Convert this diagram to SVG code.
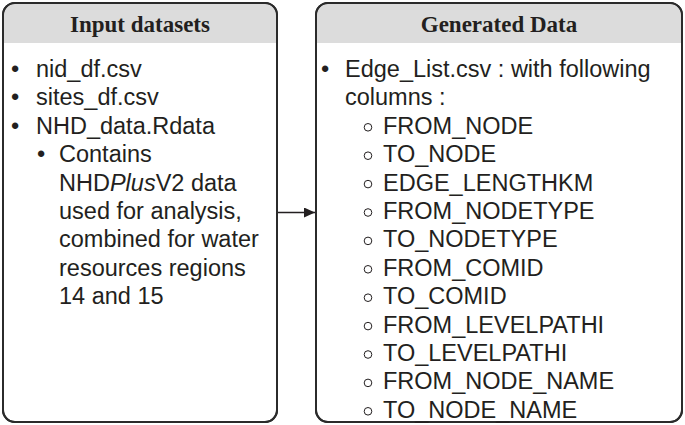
<svg xmlns="http://www.w3.org/2000/svg" width="685" height="425" viewBox="0 0 685 425">
<defs>
<style>
.box{fill:#fff;stroke:#2b2b2b;stroke-width:2}
.hdr{fill:#dcdcdc}
.ht{font-family:"Liberation Serif",serif;font-weight:bold;font-size:23px;fill:#231f20;text-anchor:middle}
.t{font-family:"Liberation Sans",Arial,sans-serif;font-size:23.5px;fill:#231f20}
.o{fill:none;stroke:#231f20;stroke-width:1}
</style>
<marker id="ah" markerWidth="11" markerHeight="10" refX="11" refY="5" orient="auto" markerUnits="userSpaceOnUse">
<path d="M0,0 L11,5 L0,10 Z" fill="#231f20"/>
</marker>
</defs>
<rect width="685" height="425" fill="#fff"/>
<g id="input">
<rect class="box" x="3" y="3" width="274" height="419" rx="12"/>
<path class="hdr" d="M4,43 V15 A11,11 0 0 1 15,4 H265 A11,11 0 0 1 276,15 V43 Z"/>
<rect x="3" y="3" width="274" height="419" rx="12" fill="none" stroke="#2b2b2b" stroke-width="2"/>
<text class="ht" x="140" y="32">Input datasets</text>
<text class="t" x="11" y="77">•</text><text class="t" x="36" y="77">nid_df.csv</text>
<text class="t" x="11" y="105.4">•</text><text class="t" x="36" y="105.4">sites_df.csv</text>
<text class="t" x="11" y="133.8">•</text><text class="t" x="36" y="133.8">NHD_data.Rdata</text>
<text class="t" x="37" y="162.2">•</text><text class="t" x="59" y="162.2">Contains</text>
<text class="t" x="59" y="190.6">NHD<tspan font-style="italic">Plus</tspan>V2 data</text>
<text class="t" x="59" y="219">used for analysis,</text>
<text class="t" x="59" y="247.4">combined for water</text>
<text class="t" x="59" y="275.8">resources regions</text>
<text class="t" x="59" y="304.2">14 and 15</text>
</g>
<g id="generated">
<rect class="box" x="316" y="3" width="366" height="419" rx="12"/>
<path class="hdr" d="M317,43 V15 A11,11 0 0 1 328,4 H670 A11,11 0 0 1 681,15 V43 Z"/>
<rect x="316" y="3" width="366" height="419" rx="12" fill="none" stroke="#2b2b2b" stroke-width="2"/>
<text class="ht" x="499" y="32">Generated Data</text>
<text class="t" x="321" y="77">•</text><text class="t" x="345" y="77">Edge_List.csv : with following</text>
<text class="t" x="345" y="105.4">columns :</text>
<g class="o">
<circle cx="368" cy="127.3" r="3.8"/><circle cx="368" cy="155.7" r="3.8"/><circle cx="368" cy="184.1" r="3.8"/><circle cx="368" cy="212.5" r="3.8"/><circle cx="368" cy="240.9" r="3.8"/><circle cx="368" cy="269.3" r="3.8"/><circle cx="368" cy="297.7" r="3.8"/><circle cx="368" cy="326.1" r="3.8"/><circle cx="368" cy="354.5" r="3.8"/><circle cx="368" cy="382.9" r="3.8"/><circle cx="368" cy="411.3" r="3.8"/>
</g>
<text class="t" x="383" y="133.8">FROM_NODE</text>
<text class="t" x="383" y="162.2">TO_NODE</text>
<text class="t" x="383" y="190.6">EDGE_LENGTHKM</text>
<text class="t" x="383" y="219">FROM_NODETYPE</text>
<text class="t" x="383" y="247.4">TO_NODETYPE</text>
<text class="t" x="383" y="275.8">FROM_COMID</text>
<text class="t" x="383" y="304.2">TO_COMID</text>
<text class="t" x="383" y="332.6">FROM_LEVELPATHI</text>
<text class="t" x="383" y="361">TO_LEVELPATHI</text>
<text class="t" x="383" y="389.4">FROM_NODE_NAME</text>
<text class="t" x="383" y="417.8">TO_NODE_NAME</text>
</g>
<g id="connectors">
<line x1="278" y1="212.5" x2="315" y2="212.5" stroke="#231f20" stroke-width="1.5" marker-end="url(#ah)"/>
</g>
</svg>
